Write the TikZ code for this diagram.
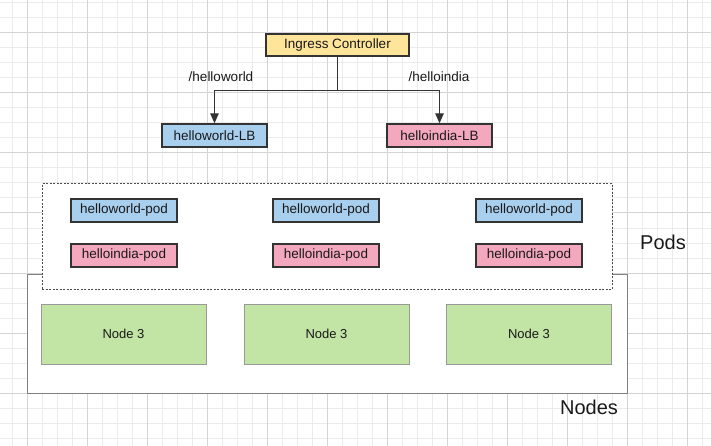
\documentclass[tikz,border=0pt]{standalone}
\usepackage{fontspec}
\setmainfont{Liberation Sans}
\usetikzlibrary{arrows.meta}
\definecolor{icyellow}{HTML}{FFE599}
\definecolor{lbblue}{HTML}{A9CFEF}
\definecolor{lbpink}{HTML}{F4A8BE}
\definecolor{nodegreen}{HTML}{C2E5A5}
\definecolor{gridminor}{HTML}{EBEBEB}
\definecolor{gridmajor}{HTML}{D4D4D4}
\begin{document}
\begin{tikzpicture}[x=1pt,y=-1pt,
    box/.style={draw=black!80,line width=1.4pt,inner sep=0pt,minimum height=23pt,
      minimum width=106pt,text=black!90,font=\fontsize{13.5}{15}\selectfont},
    machine/.style={draw=black!40,line width=0.8pt,fill=nodegreen,inner sep=0pt,
      minimum width=165pt,minimum height=60pt,text=black!90,font=\fontsize{13}{15}\selectfont},
    path/.style={text=black!90,font=\fontsize{13.5}{15}\selectfont},
    group/.style={text=black!90,font=\fontsize{20}{24}\selectfont},
    route/.style={draw=black!80,line width=1.2pt,-{Triangle[length=10pt,width=8.5pt]}}]
    \useasboundingbox (0,0) rectangle (711,446);
    % background grid
    \foreach \gx in {12,27,...,702} \draw[gridminor,line width=1pt] (\gx,0) -- (\gx,446);
    \foreach \gy in {3,18,...,438} \draw[gridminor,line width=1pt] (0,\gy) -- (711,\gy);
    \foreach \gx in {27,87,...,687} \draw[gridmajor,line width=1pt] (\gx,0) -- (\gx,446);
    \foreach \gy in {33,93,...,393} \draw[gridmajor,line width=1pt] (0,\gy) -- (711,\gy);

    % ingress and load balancers
    \node[box,fill=icyellow,minimum width=143pt,minimum height=22pt] (IC) at (337.5,45) {Ingress Controller};
    \node[box,fill=lbblue,minimum width=105pt] (LBW) at (214.5,135.5) {helloworld-LB};
    \node[box,fill=lbpink,minimum width=105pt] (LBI) at (439.5,135.5) {helloindia-LB};
    \node[path] (PW) at (221,77) {/helloworld};
    \node[path] (PI) at (439,77) {/helloindia};
    \draw[route] (IC.south) -- ++(0,34) -| (LBW.north);
    \draw[route] (IC.south) -- ++(0,34) -| (LBI.north);

    % nodes and pods
    \node[draw=black!50,line width=1pt,fill=white,minimum width=600pt,minimum height=119pt] (NODES) at (327,333.5) {};
    \node[draw=black!70,line width=1pt,dash pattern=on 2pt off 1.5pt,fill=white,minimum width=570pt,minimum height=105pt] (PODS) at (327,236.5) {};
    \node[box,fill=lbblue] (W1) at (124,210.5) {helloworld-pod};
    \node[box,fill=lbblue] (W2) at (326,210.5) {helloworld-pod};
    \node[box,fill=lbblue] (W3) at (529,210.5) {helloworld-pod};
    \node[box,fill=lbpink] (I1) at (124,255.5) {helloindia-pod};
    \node[box,fill=lbpink] (I2) at (326,255.5) {helloindia-pod};
    \node[box,fill=lbpink] (I3) at (529,255.5) {helloindia-pod};
    \node[machine] (N1) at (123.5,334) {Node 3};
    \node[machine] (N2) at (326.5,334) {Node 3};
    \node[machine] (N3) at (529,334) {Node 3};
    \node[group] (PL) at (663,242) {Pods};
    \node[group] (NL) at (589,407) {Nodes};
\end{tikzpicture}
\end{document}
